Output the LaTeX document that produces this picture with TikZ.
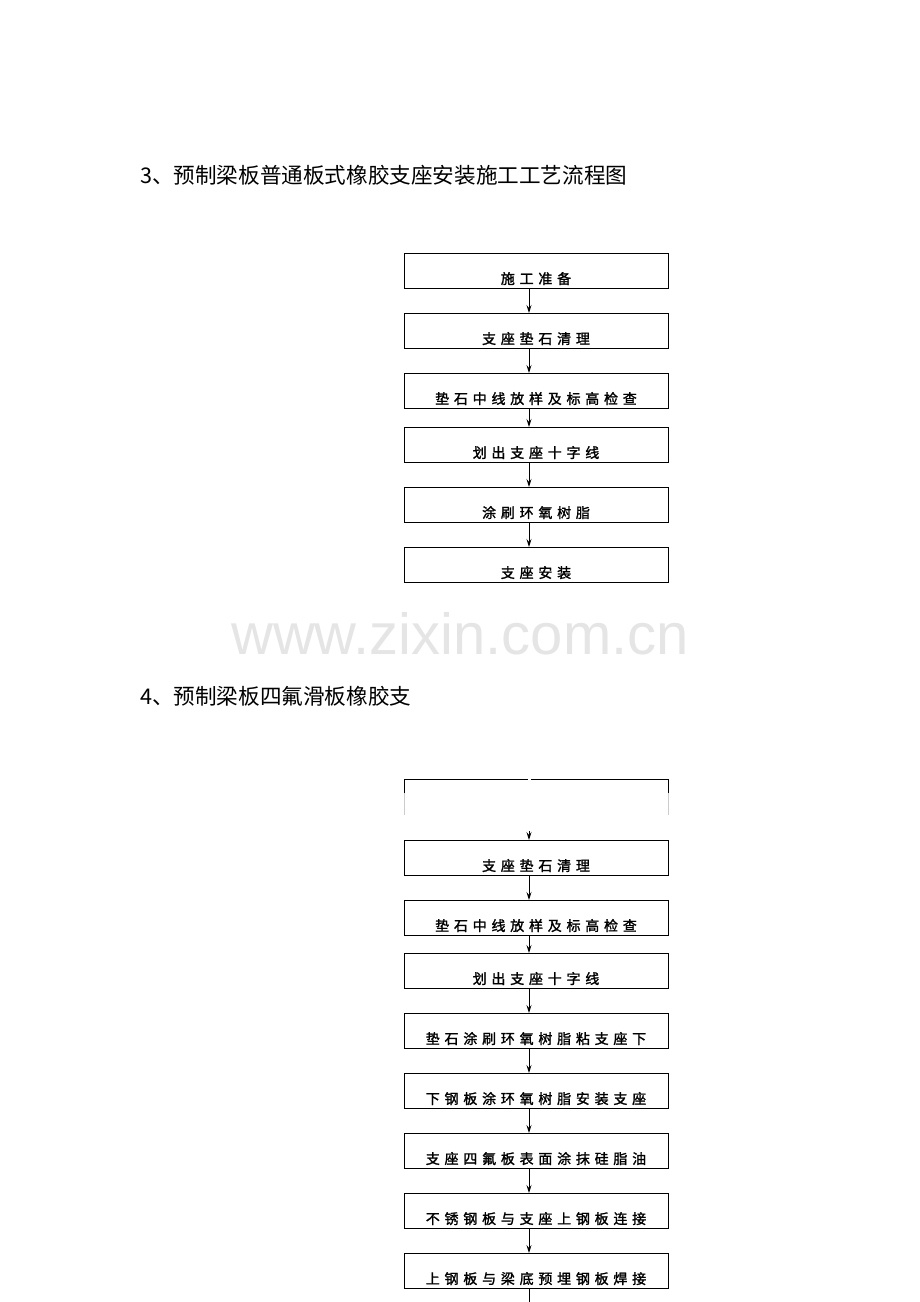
\documentclass[tikz,border=0pt]{standalone}
\usepackage{fontspec}
\usetikzlibrary{arrows.meta}
\newfontfamily\cjk{Noto Sans CJK SC}
\newfontfamily\boxfont[LetterSpace=34, FakeBold=1.6]{Noto Sans CJK SC}
\setsansfont{Liberation Sans}
\tikzset{
    stepbox/.style={draw, line width=0.8pt, anchor=north, minimum width=264pt,
        inner xsep=0pt, inner ysep=0pt, text height=30.5pt, text depth=4.5pt,
        font=\boxfont\fontsize{14pt}{14pt}\selectfont},
    flow/.style={line width=0.8pt, -{Stealth[length=8pt, width=5pt, inset=3pt]}},
    heading/.style={anchor=west, inner sep=0pt, font=\cjk\fontsize{21.6pt}{21.6pt}\selectfont}
}
\begin{document}
\begin{tikzpicture}[x=1pt, y=-1pt]
    \useasboundingbox (0, 0) rectangle (920, 1302);
    % first chart
    \node[heading] (head3) at (140, 175) {3、预制梁板普通板式橡胶支座安装施工工艺流程图};
    \node[stepbox] (a1) at (536, 253) {施工准备};
    \node[stepbox] (a2) at (536, 313) {支座垫石清理};
    \node[stepbox] (a3) at (536, 373) {垫石中线放样及标高检查};
    \node[stepbox] (a4) at (536, 427) {划出支座十字线};
    \node[stepbox] (a5) at (536, 487) {涂刷环氧树脂};
    \node[stepbox] (a6) at (536, 547) {支座安装};
    \draw[flow] ([xshift=-7pt]a1.south) -- ([xshift=-7pt]a2.north);
    \draw[flow] ([xshift=-7pt]a2.south) -- ([xshift=-7pt]a3.north);
    \draw[flow] ([xshift=-7pt]a3.south) -- ([xshift=-7pt]a4.north);
    \draw[flow] ([xshift=-7pt]a4.south) -- ([xshift=-7pt]a5.north);
    \draw[flow] ([xshift=-7pt]a5.south) -- ([xshift=-7pt]a6.north);
    % watermark
    \node[text=black!10, font=\sffamily\fontsize{58pt}{58pt}\selectfont] (mark) at (460, 634) {www.zixin.com.cn};
    % second chart
    \node[heading] (head4) at (140, 696) {4、预制梁板四氟滑板橡胶支};
    \coordinate (b0l) at (404, 779);
    \coordinate (b0r) at (668, 779);
    \coordinate (b0m) at (529, 779);
    \draw[line width=0.8pt] ([yshift=-14pt]b0l) -- (b0l) -- ([xshift=-1.5pt]b0m);
    \draw[line width=0.8pt] ([xshift=1.5pt]b0m) -- (b0r) -- ([yshift=-14pt]b0r);
    \draw[black!20, line width=0.8pt] ([yshift=-14pt]b0l) -- ([yshift=-36pt]b0l);
    \draw[black!20, line width=0.8pt] ([yshift=-14pt]b0r) -- ([yshift=-36pt]b0r);
    \node[stepbox] (b1) at (536, 840) {支座垫石清理};
    \node[stepbox] (b2) at (536, 900) {垫石中线放样及标高检查};
    \node[stepbox] (b3) at (536, 953) {划出支座十字线};
    \node[stepbox] (b4) at (536, 1013) {垫石涂刷环氧树脂粘支座下};
    \node[stepbox] (b5) at (536, 1073) {下钢板涂环氧树脂安装支座};
    \node[stepbox] (b6) at (536, 1133) {支座四氟板表面涂抹硅脂油};
    \node[stepbox] (b7) at (536, 1193) {不锈钢板与支座上钢板连接};
    \node[stepbox] (b8) at (536, 1253) {上钢板与梁底预埋钢板焊接};
    \coordinate (stub) at (529, 831);
    \coordinate (tail) at (529, 1302);
    \draw[flow] (stub) -- ([xshift=-7pt]b1.north);
    \draw[flow] ([xshift=-7pt]b1.south) -- ([xshift=-7pt]b2.north);
    \draw[flow] ([xshift=-7pt]b2.south) -- ([xshift=-7pt]b3.north);
    \draw[flow] ([xshift=-7pt]b3.south) -- ([xshift=-7pt]b4.north);
    \draw[flow] ([xshift=-7pt]b4.south) -- ([xshift=-7pt]b5.north);
    \draw[flow] ([xshift=-7pt]b5.south) -- ([xshift=-7pt]b6.north);
    \draw[flow] ([xshift=-7pt]b6.south) -- ([xshift=-7pt]b7.north);
    \draw[flow] ([xshift=-7pt]b7.south) -- ([xshift=-7pt]b8.north);
    \draw[line width=0.8pt] ([xshift=-7pt]b8.south) -- (tail);
\end{tikzpicture}
\end{document}
